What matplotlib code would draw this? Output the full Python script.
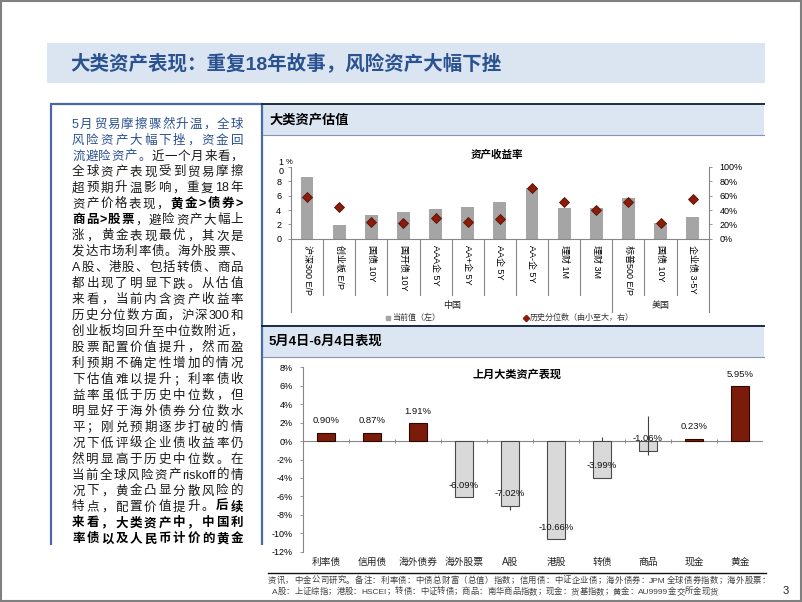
import numpy as np
import matplotlib
matplotlib.use('Agg')
import matplotlib.pyplot as plt
from matplotlib.font_manager import FontProperties
from matplotlib.patches import Rectangle

FAM = ['Liberation Sans', 'Noto Sans CJK SC', 'DejaVu Sans']
plt.rcParams['font.family'] = FAM
plt.rcParams['axes.unicode_minus'] = False

# ---------------- data ----------------
title_text = '大类资产表现：重复18年故事，风险资产大幅下挫'
panel1_title = '大类资产估值'
panel2_title = '5月4日-6月4日表现'
chart1_title = '资产收益率'
chart2_title = '上月大类资产表现'

val_categories = ['沪深300 E/P', '创业板 E/P', '国债 10Y', '国开债 10Y', 'AAA企 5Y',
                  'AA+企 5Y', 'AA企 5Y', 'AA-企 5Y', '理财 1M', '理财 3M',
                  '标普500 E/P', '国债 10Y', '企业债 3-5Y']
val_current = [8.64, 1.91, 3.30, 3.76, 4.09, 4.46, 5.07, 7.11, 4.23, 4.28, 5.67, 2.14, 3.07]
val_percentile = [58.6, 44.6, 23.7, 22.3, 28.5, 22.9, 27.0, 71.0, 51.6, 39.6, 50.8, 22.3, 55.0]
val_groups = ['中国', '美国']
val_group_sizes = [10, 3]
val_left_ticks = [0, 2, 4, 6, 8, 10]
val_right_ticks = [0, 20, 40, 60, 80, 100]
legend_labels = ['当前值（左）', '历史分位数（由小至大，右）']

perf_categories = ['利率债', '信用债', '海外债券', '海外股票', 'A股', '港股', '转债', '商品', '现金', '黄金']
perf_values = [0.90, 0.87, 1.91, -6.09, -7.02, -10.66, -3.99, -1.06, 0.23, 5.95]
nan = float('nan')
perf_whisker_low = [nan, nan, nan, nan, -7.45, nan, 0.0, -1.52, nan, nan]
perf_whisker_high = [nan, nan, nan, nan, -7.02, nan, 0.4, 2.71, nan, nan]
perf_ticks = [-12, -10, -8, -6, -4, -2, 0, 2, 4, 6, 8]

# body text: (text, style)  b = blue, n = normal, k = bold
body_lines = [
    [('5月贸易摩擦骤然升温，全球', 'b')],
    [('风险资产大幅下挫，资金回', 'b')],
    [('流避险资产。', 'b'), ('近一个月来看，', 'n')],
    [('全球资产表现受到贸易摩擦', 'n')],
    [('超预期升温影响，重复18年', 'n')],
    [('资产价格表现，', 'n'), ('黄金>债券>', 'k')],
    [('商品>股票', 'k'), ('，避险资产大幅上', 'n')],
    [('涨，黄金表现最优，其次是', 'n')],
    [('发达市场利率债。海外股票、', 'n')],
    [('A股、港股、包括转债、商品', 'n')],
    [('都出现了明显下跌。从估值', 'n')],
    [('来看，当前内含资产收益率', 'n')],
    [('历史分位数方面，沪深300和', 'n')],
    [('创业板均回升至中位数附近，', 'n')],
    [('股票配置价值提升，然而盈', 'n')],
    [('利预期不确定性增加的情况', 'n')],
    [('下估值难以提升；利率债收', 'n')],
    [('益率虽低于历史中位数，但', 'n')],
    [('明显好于海外债券分位数水', 'n')],
    [('平；刚兑预期逐步打破的情', 'n')],
    [('况下低评级企业债收益率仍', 'n')],
    [('然明显高于历史中位数。在', 'n')],
    [('当前全球风险资产riskoff的情', 'n')],
    [('况下，黄金凸显分散风险的', 'n')],
    [('特点，配置价值提升。', 'n'), ('后续', 'k')],
    [('来看，大类资产中，中国利', 'k')],
    [('率债以及人民币计价的黄金', 'k')],
]
footer_line1 = '资讯，中金公司研究。备注：利率债：中债总财富（总值）指数；信用债：中证企业债；海外债券：JPM全球债券指数；海外股票：'
footer_line2 = 'A股：上证综指；港股：HSCEI；转债：中证转债；商品：南华商品指数；现金：货基指数；黄金：AU9999金交所金现货'
page_number = '3'

# ---------------- figure ----------------
W, H = 802, 602
fig = plt.figure(figsize=(W / 100, H / 100), dpi=100)
fig.patch.set_facecolor('white')


def fx(x):
    return x / W


def fy(y):
    return 1 - y / H


bg = fig.add_axes([0, 0, 1, 1], zorder=0)
bg.set_xlim(0, W)
bg.set_ylim(H, 0)
bg.axis('off')

BLUE = '#2a5190'
BAND = '#dce6f2'

# outer border
bg.add_patch(Rectangle((1, 1), W - 2.5, H - 2.5, fill=False, ec='#808080', lw=1.5))
# title band
bg.add_patch(Rectangle((47, 43), 718, 40, fc='#dbe5f1', ec='none'))
bg.text(70, 64, title_text, fontsize=14, color=BLUE, weight='bold', va='center', ha='left')

# left text box borders
bx = dict(color='#4a6aa5', lw=1.6, solid_capstyle='butt')
bg.plot([51, 51], [103, 545], **bx)
bg.plot([262, 262], [103, 545], **bx)
bg.plot([51, 262], [103.5, 103.5], **bx)

# right panel headers
bg.add_patch(Rectangle((263, 104), 501, 31, fc=BAND, ec='none'))
bg.plot([262, 764], [104, 104], color='#1c2a44', lw=1.4)
bg.plot([263, 764], [135, 135], color='#8796b0', lw=0.8)
bg.text(269, 120, panel1_title, fontsize=9.5, weight='bold', color='black', va='center')

bg.add_patch(Rectangle((263, 326), 501, 31, fc=BAND, ec='none'))
bg.plot([262, 764], [325.5, 325.5], color='#1c2a44', lw=1.4)
bg.plot([263, 764], [357, 357], color='#8796b0', lw=0.8)
bg.text(269, 342, panel2_title, fontsize=9.5, weight='bold', color='black', va='center')

# ---------------- body text (justified) ----------------
renderer = fig.canvas.get_renderer()
styles = {'b': (BLUE, 'normal'), 'n': ('#1a1a1a', 'normal'), 'k': ('#000000', 'bold')}


def tokenize(text):
    toks, buf = [], ''
    for ch in text:
        if ord(ch) < 128:
            buf += ch
        else:
            if buf:
                toks.append(buf)
                buf = ''
            toks.append(ch)
    if buf:
        toks.append(buf)
    return toks


def draw_justified(segs, x0, x1, ycenter, size, justify=True):
    toks = []
    for text, st in segs:
        for t in tokenize(text):
            toks.append((t, st))
    widths = []
    for t, st in toks:
        fp = FontProperties(family=FAM, size=size, weight=styles[st][1])
        w, h, d = renderer.get_text_width_height_descent(t, fp, ismath=False)
        widths.append(w)
    gap = (x1 - x0 - sum(widths)) / max(len(toks) - 1, 1) if justify else 0
    x = x0
    yb = ycenter + 0.37 * size * 100 / 72
    for (t, st), w in zip(toks, widths):
        col, wt = styles[st]
        bg.text(x, yb, t, fontsize=size, color=col, weight=wt, ha='left', va='baseline')
        x += w + gap


for i, segs in enumerate(body_lines):
    draw_justified(segs, 72, 243, 123 + i * 15.95, 9.0)

# ---------------- chart 1 ----------------
n1 = len(val_categories)
x1 = np.arange(n1)
ax1 = fig.add_axes([fx(291), fy(238.7), (708.7 - 291) / W, (238.7 - 167) / H], zorder=2)
ax1.set_facecolor('none')
ax1.bar(x1, val_current, width=0.4, color='#a5a5a5', zorder=2)
ax1.set_xlim(-0.5, n1 - 0.5)
ax1.set_ylim(val_left_ticks[0], val_left_ticks[-1])
ax1.set_yticks(val_left_ticks)
ax1.set_yticklabels([str(t) for t in val_left_ticks[:-1]] + [''])
GRAY = '#868686'
for s in ['top', 'right']:
    ax1.spines[s].set_visible(False)
ax1.spines['left'].set_color(GRAY)
ax1.spines['bottom'].set_color(GRAY)
ax1.spines['left'].set_linewidth(0.8)
ax1.spines['bottom'].set_linewidth(0.8)
ax1.tick_params(axis='y', length=2, width=0.6, color=GRAY, labelsize=6.5, pad=5)
ax1.set_xticks(x1)
ax1.set_xticklabels(val_categories, rotation=270, fontsize=6.5, va='top', ha='center')
ax1.tick_params(axis='x', length=0, pad=4.5)

ax1r = ax1.twinx()
ax1r.set_ylim(val_right_ticks[0], val_right_ticks[-1])
ax1r.set_yticks(val_right_ticks)
ax1r.set_yticklabels(['%d%%' % t for t in val_right_ticks])
for s in ['top', 'left', 'bottom']:
    ax1r.spines[s].set_visible(False)
ax1r.spines['right'].set_color(GRAY)
ax1r.spines['right'].set_linewidth(0.8)
ax1r.tick_params(axis='y', length=2, width=0.6, color=GRAY, labelsize=6.5, pad=6)
ax1r.plot(x1, val_percentile, linestyle='none', marker='D', markersize=5.2,
          color='#8a1c0a', markeredgecolor='#5a1005', markeredgewidth=0.6, zorder=3)

# "10" split label and unit
bg.text(283.5, 162.7, '1', fontsize=6.5, ha='right', va='center')
bg.text(283.5, 171.7, '0', fontsize=6.5, ha='right', va='center')
bg.text(285.5, 162.5, '%', fontsize=5.5, ha='left', va='center')

# separators below the category axis
tr = ax1.get_xaxis_transform()
short_y, long_y = -0.785, -1.018
bounds = np.cumsum(val_group_sizes)
for k in range(n1 + 1):
    xb = k - 0.5
    is_long = (k == 0) or (k in bounds)
    ax1.plot([xb, xb], [0, long_y if is_long else short_y], color=GRAY, lw=0.8,
             transform=tr, clip_on=False, zorder=1)
start = 0
for g, sz in zip(val_groups, val_group_sizes):
    ax1.text(start + (sz - 1) / 2, -0.925, g, transform=tr, ha='center', va='center',
             fontsize=6.5, color='#222222')
    start += sz

bg.text(497, 155, chart1_title, fontsize=7.6, weight='bold', ha='center', va='center')

# legend
bg.plot([388], [317.5], marker='s', markersize=3.2, color='#a5a5a5', linestyle='none')
bg.text(392, 317.5, legend_labels[0], fontsize=5.8, color='#333333', va='center')
bg.plot([525.5], [317.5], marker='D', markersize=3.2, color='#8a1c0a', linestyle='none')
bg.text(530, 317.5, legend_labels[1], fontsize=5.8, color='#333333', va='center')

# ---------------- chart 2 ----------------
n2 = len(perf_categories)
x2 = np.arange(n2)
ax2 = fig.add_axes([fx(303), fy(551.7), 460 / W, 184.4 / H], zorder=2)
ax2.set_facecolor('none')
pos_c, neg_c = '#7b1c0b', '#d9d9d9'
fcol = [pos_c if v >= 0 else neg_c for v in perf_values]
ecol = ['#2b0800' if v >= 0 else '#4a4a4a' for v in perf_values]
ax2.bar(x2, perf_values, width=0.41, color=fcol, edgecolor=ecol, linewidth=0.8, zorder=2)
ax2.set_xlim(-0.5, n2 - 0.5)
ax2.set_ylim(perf_ticks[0], perf_ticks[-1])
ax2.set_yticks(perf_ticks)
ax2.set_yticklabels(['%d%%' % t for t in perf_ticks])
for s in ['top', 'right', 'bottom']:
    ax2.spines[s].set_visible(False)
ax2.spines['left'].set_color(GRAY)
ax2.spines['left'].set_linewidth(0.8)
ax2.tick_params(axis='y', length=2.5, width=0.6, color=GRAY, labelsize=6.5, pad=5)
ax2.axhline(0, color=GRAY, lw=0.8, zorder=1)
ax2.vlines(x2[:-1] + 0.5, -0.2, 0.2, color=GRAY, lw=0.7, zorder=1)
ax2.set_xticks(x2)
ax2.set_xticklabels(perf_categories, fontsize=7, color='#222222')
ax2.tick_params(axis='x', length=0, pad=3.5)
ax2.vlines(x2, perf_whisker_low, perf_whisker_high, color='#404040', lw=0.8, zorder=3)
for xi, v in zip(x2, perf_values):
    ax2.annotate('%.2f%%' % v, (xi, v), xytext=(0, 8.7), textcoords='offset points',
                 ha='center', va='center', fontsize=6.8, color='#111111', zorder=4)

bg.text(517, 374, chart2_title, fontsize=8, weight='bold', ha='center', va='center')

# ---------------- footer ----------------
bg.plot([268, 766], [572.5, 572.5], color='#111111', lw=1.0)
styles['f'] = ('#404040', 'normal')
draw_justified([(footer_line1, 'f')], 268, 770, 579.5, 6.0)
draw_justified([(footer_line2, 'f')], 272, 0, 591, 6.0, justify=False)
bg.text(786, 591, page_number, fontsize=8, ha='center', va='center', color='#222222')

fig.savefig('out.png', dpi=100, facecolor='white')
